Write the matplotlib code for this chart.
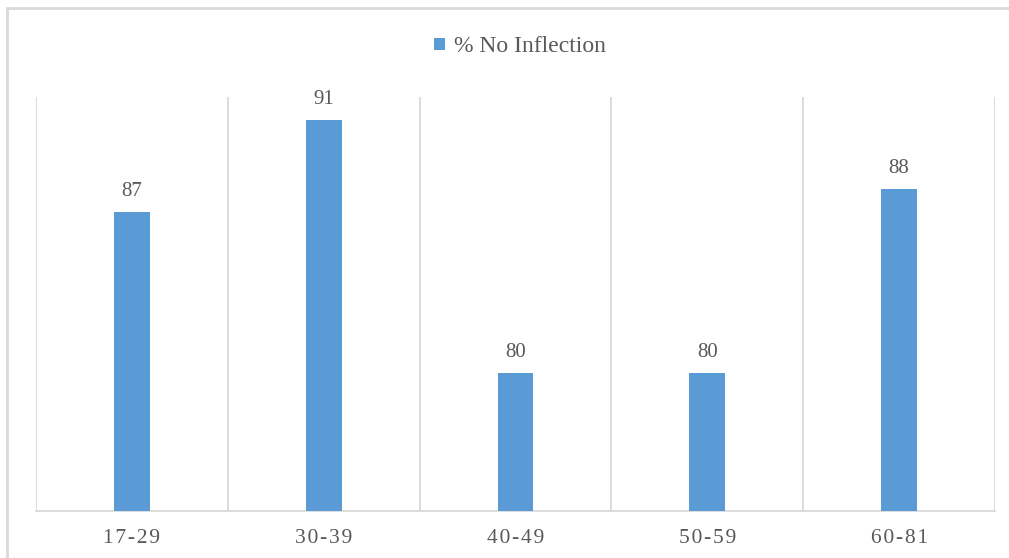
import matplotlib.pyplot as plt
from matplotlib.patches import Rectangle

# age groups and share of answers with no inflection
age_groups = ["17-29", "30-39", "40-49", "50-59", "60-81"]
no_inflection = [87, 91, 80, 80, 88]
series_name = "% No Inflection"

bar_color = "#5B9BD5"
text_color = "#595959"
grid_color = "#D9D9D9"

plt.rcParams["font.family"] = ["Liberation Serif", "DejaVu Serif"]

fig = plt.figure(figsize=(10.09, 5.58), dpi=100)
W, H = 1009, 558
ax = fig.add_axes([36 / W, 1 - 511 / H, (995 - 36) / W, (511 - 97) / H])

x = range(len(age_groups))
bars = ax.bar(x, no_inflection, width=0.1875, color=bar_color, zorder=3,
              label=series_name)

ax.set_xlim(-0.5, len(age_groups) - 0.5)
ax.set_ylim(74, 92)

# category separators
for b in [i - 0.5 for i in range(len(age_groups) + 1)]:
    ax.axvline(b, color=grid_color, lw=1.3, zorder=1)

for s in ["top", "left", "right"]:
    ax.spines[s].set_visible(False)
ax.spines["bottom"].set_color(grid_color)
ax.spines["bottom"].set_linewidth(1.3)

ax.set_yticks([])
ax.set_xticks(list(x))
ax.set_xticklabels(["\u200a".join(lbl) for lbl in age_groups],
                   fontsize=15.5, color=text_color)
ax.tick_params(axis="x", length=0, pad=13)

for rect, v in zip(bars, no_inflection):
    ax.annotate(f"{v}", (rect.get_x() + rect.get_width() / 2, v),
                xytext=(0, 8), textcoords="offset points",
                ha="center", va="bottom", fontsize=15, color=text_color)

fig.legend(handles=[bars], labels=[series_name], loc="center",
           bbox_to_anchor=(520 / W, 1 - 47 / H), frameon=False,
           fontsize=17, labelcolor=text_color, handlelength=0.45,
           handleheight=0.45, handletextpad=0.4)

# chart frame
fig.patches.append(Rectangle((7 / W, -0.1), 1.2, 1 - 8 / H + 0.1,
                             transform=fig.transFigure, fill=False,
                             edgecolor=grid_color, lw=2))

fig.savefig("out.png", dpi=100)
